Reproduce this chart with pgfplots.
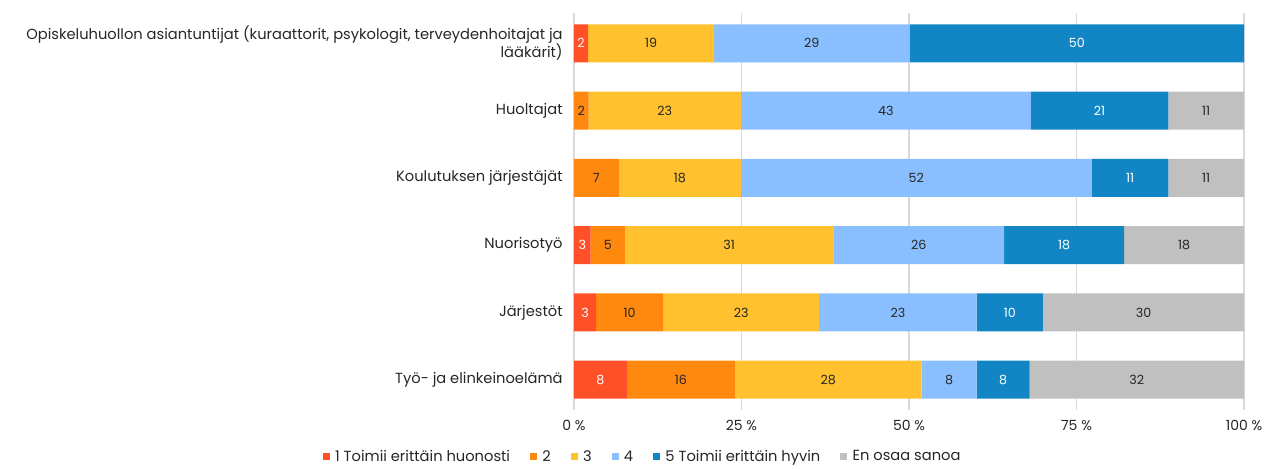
\documentclass[border=0pt]{standalone}
\usepackage{pgfplots}
\pgfplotsset{compat=1.18}
\usepackage{fontspec}
\setmainfont{Poppins}
\definecolor{c1}{HTML}{FF5028}
\definecolor{c2}{HTML}{FF880F}
\definecolor{c3}{HTML}{FFC12E}
\definecolor{c4}{HTML}{8ABFFF}
\definecolor{c5}{HTML}{1286C4}
\definecolor{c6}{HTML}{C0C0C0}
\definecolor{tx}{HTML}{262626}
\begin{document}
\begin{tikzpicture}
\begin{axis}[
  scale only axis,
  width=502.5pt, height=297.75pt,
  xbar stacked,
  bar width=28.5pt,
  xmin=0, xmax=100,
  ymin=-0.45, ymax=5.45,
  ytick={0,1,2,3,4,5},
  yticklabels={Työ- ja elinkeinoelämä, Järjestöt, Nuorisotyö, Koulutuksen järjestäjät, Huoltajat, {Opiskeluhuollon asiantuntijat (kuraattorit, psykologit, terveydenhoitajat ja\\lääkärit)}},
  yticklabel style={align=right, font=\fontsize{11}{13.5}\selectfont, text=tx, xshift=-5pt},
  xtick={0,25,50,75,100},
  xticklabels={0 \%, 25 \%, 50 \%, 75 \%, 100 \%},
  xticklabel style={font=\fontsize{10.5}{12}\selectfont, text=tx, yshift=-4pt},
  major tick length=0pt,
  axis line style={draw=none},
  xmajorgrids,
  grid style={draw=black!15, line width=0.8pt},
  point meta=explicit symbolic,
  nodes near coords,
  every node near coord/.append style={font=\fontsize{9.5}{11}\selectfont, text=tx},
  legend style={at={(0.103,-0.118)}, anchor=center, draw=none, legend columns=-1,
    font=\fontsize{11}{13}\selectfont, text=tx,
    /tikz/every even column/.append style={column sep=13pt},
    /tikz/every odd column/.append style={column sep=2pt}},
  legend image code/.code={\fill (0pt,-2.6pt) rectangle (5.2pt,2.6pt);},
]
\addplot+[fill=c1, draw=none, every node near coord/.append style={text=white}] coordinates {
(7.9,0) [8] (3.3,1) [3] (2.5,2) [3] (0,3) [] (0,4) [] (2.1,5) [2]};
\addplot+[fill=c2, draw=none] coordinates {
(16.1,0) [16] (10.0,1) [10] (5.1,2) [5] (6.7,3) [7] (2.2,4) [2] (0,5) []};
\addplot+[fill=c3, draw=none] coordinates {
(27.9,0) [28] (23.3,1) [23] (31.1,2) [31] (18.2,3) [18] (22.7,4) [23] (18.8,5) [19]};
\addplot+[fill=c4, draw=none] coordinates {
(8.2,0) [8] (23.5,1) [23] (25.5,2) [26] (52.4,3) [52] (43.3,4) [43] (29.2,5) [29]};
\addplot+[fill=c5, draw=none, every node near coord/.append style={text=white}] coordinates {
(7.9,0) [8] (9.9,1) [10] (17.9,2) [18] (11.4,3) [11] (20.5,4) [21] (49.9,5) [50]};
\addplot+[fill=c6, draw=none] coordinates {
(32.0,0) [32] (30.0,1) [30] (17.9,2) [18] (11.3,3) [11] (11.3,4) [11] (0,5) []};
\legend{1 Toimii erittäin huonosti, 2, 3, 4, 5 Toimii erittäin hyvin, En osaa sanoa}
\end{axis}
\path ([xshift=-430.5pt,yshift=-40.5pt]current axis.south west) rectangle ([xshift=22.5pt,yshift=9.75pt]current axis.north east);
\end{tikzpicture}
\end{document}
